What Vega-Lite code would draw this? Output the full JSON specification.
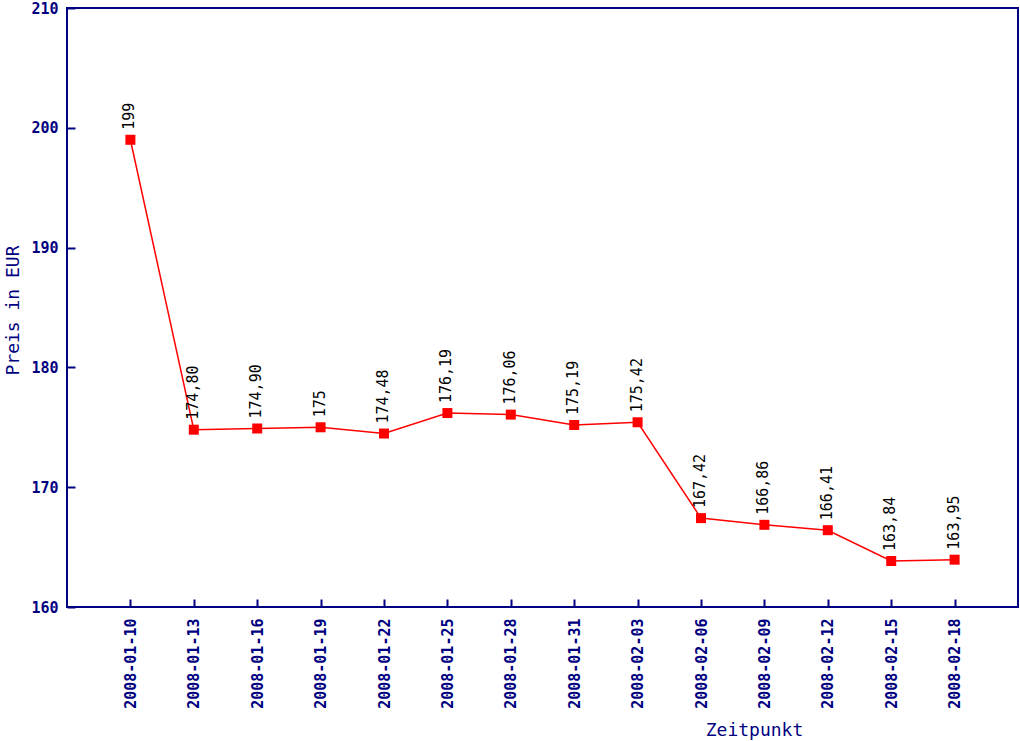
{
  "$schema": "https://vega.github.io/schema/vega-lite/v6.json",
  "width": 951,
  "height": 599,
  "autosize": {"type": "none"},
  "padding": {"left": 67, "top": 8, "right": 2, "bottom": 134},
  "background": "white",
  "config": {
    "view": {"stroke": "#000080", "strokeWidth": 2},
    "axis": {
      "domain": false,
      "grid": false,
      "tickColor": "#000080",
      "tickWidth": 2,
      "tickSize": -8,
      "labelColor": "#000080",
      "labelFont": "DejaVu Sans Mono",
      "labelFontWeight": "bold",
      "titleColor": "#000080",
      "titleFont": "DejaVu Sans Mono",
      "titleFontWeight": "normal",
      "titleFontSize": 18
    }
  },
  "data": {
    "values": [
      {"Zeitpunkt": "2008-01-10", "Preis": 199.00, "Label": "199"},
      {"Zeitpunkt": "2008-01-13", "Preis": 174.80, "Label": "174,80"},
      {"Zeitpunkt": "2008-01-16", "Preis": 174.90, "Label": "174,90"},
      {"Zeitpunkt": "2008-01-19", "Preis": 175.00, "Label": "175"},
      {"Zeitpunkt": "2008-01-22", "Preis": 174.48, "Label": "174,48"},
      {"Zeitpunkt": "2008-01-25", "Preis": 176.19, "Label": "176,19"},
      {"Zeitpunkt": "2008-01-28", "Preis": 176.06, "Label": "176,06"},
      {"Zeitpunkt": "2008-01-31", "Preis": 175.19, "Label": "175,19"},
      {"Zeitpunkt": "2008-02-03", "Preis": 175.42, "Label": "175,42"},
      {"Zeitpunkt": "2008-02-06", "Preis": 167.42, "Label": "167,42"},
      {"Zeitpunkt": "2008-02-09", "Preis": 166.86, "Label": "166,86"},
      {"Zeitpunkt": "2008-02-12", "Preis": 166.41, "Label": "166,41"},
      {"Zeitpunkt": "2008-02-15", "Preis": 163.84, "Label": "163,84"},
      {"Zeitpunkt": "2008-02-18", "Preis": 163.95, "Label": "163,95"}
    ]
  },
  "encoding": {
    "x": {
      "field": "Zeitpunkt",
      "type": "ordinal",
      "sort": null,
      "scale": {"type": "point", "padding": 1},
      "axis": {
        "title": "Zeitpunkt",
        "labelAngle": 270,
        "labelAlign": "right",
        "labelBaseline": "middle",
        "labelFontSize": 15,
        "labelPadding": 19,
        "titleX": 687,
        "titleY": 123,
        "titleAlign": "center",
        "titleBaseline": "middle"
      }
    },
    "y": {
      "field": "Preis",
      "type": "quantitative",
      "scale": {"domain": [160, 210], "nice": false, "zero": false},
      "axis": {
        "title": "Preis in EUR",
        "values": [160, 170, 180, 190, 200, 210],
        "labelFontSize": 15,
        "labelPadding": 17,
        "titleX": -54,
        "titleY": 302,
        "titleAngle": 270,
        "titleAlign": "center",
        "titleBaseline": "middle"
      }
    }
  },
  "layer": [
    {"mark": {"type": "line", "color": "#ff0000", "strokeWidth": 1.5}},
    {"mark": {"type": "point", "shape": "square", "filled": true, "color": "#ff0000", "size": 100, "opacity": 1}},
    {
      "mark": {"type": "text", "angle": 270, "align": "left", "baseline": "middle", "dx": 10, "dy": -1, "font": "DejaVu Sans Mono", "fontSize": 15, "color": "black"},
      "encoding": {"text": {"field": "Label"}}
    }
  ]
}
